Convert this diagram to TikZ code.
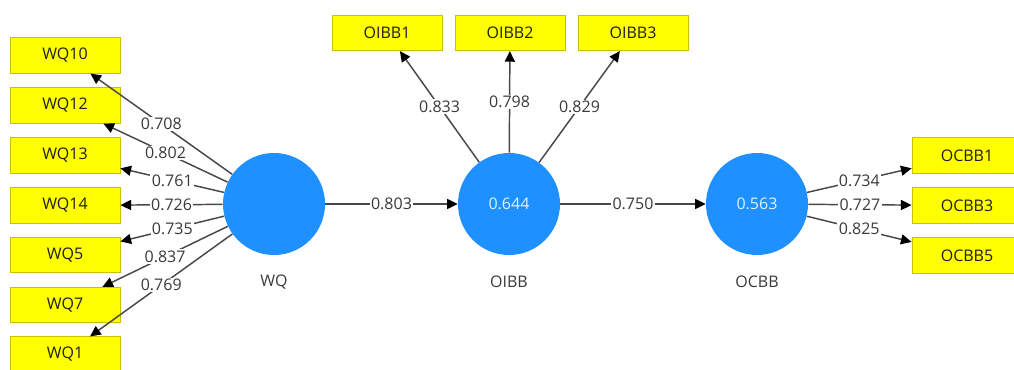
\documentclass[tikz,border=0pt]{standalone}
\usepackage{fontspec}
\setmainfont{Open Sans}
\usetikzlibrary{arrows.meta}
\definecolor{indfill}{HTML}{FFFF00}
\definecolor{inddraw}{HTML}{C8C000}
\definecolor{lvfill}{HTML}{1E90FF}
\definecolor{lvtext}{HTML}{E6F0FF}
\definecolor{wtext}{HTML}{3A3A3A}
\definecolor{arcline}{HTML}{484848}

\begin{document}
\begin{tikzpicture}[x=0.75pt,y=-0.75pt,
  indicator/.style={draw=inddraw, fill=indfill, line width=0.6pt,
    minimum width=82.5pt, minimum height=26.5pt, inner sep=0pt,
    text=black!88, font=\fontsize{12}{14}\selectfont},
  latent/.style={circle, fill=lvfill, draw=none, minimum size=76.5pt,
    inner sep=0pt, text=lvtext, font=\fontsize{12}{14}\selectfont},
  lvname/.style={text=wtext, font=\fontsize{12}{14}\selectfont},
  loading/.style={draw=arcline, line width=1.1pt,
    -{Triangle[length=8pt,width=7.5pt,color=black]}},
  weight/.style={fill=white, inner sep=1pt, text=wtext,
    font=\fontsize{12}{14}\selectfont}
]
\useasboundingbox (0,0) rectangle (1014,370);
\clip (0,0) rectangle (1014,370);

% latent variables
\node[latent] (WQ)   at (274,204) {};
\node[latent] (OIBB) at (509,204) {0.644};
\node[latent] (OCBB) at (757,204) {0.563};
\node[lvname] (WQn)   at (274,282) {WQ};
\node[lvname] (OIBBn) at (509,282) {OIBB};
\node[lvname] (OCBBn) at (757,282) {OCBB};

% indicators of WQ
\node[indicator] (WQ10) at (65,55.5)  {WQ10};
\node[indicator] (WQ12) at (65,105.5) {WQ12};
\node[indicator] (WQ13) at (65,155.5) {WQ13};
\node[indicator] (WQ14) at (65,205.5) {WQ14};
\node[indicator] (WQ5)  at (65,255)   {WQ5};
\node[indicator] (WQ7)  at (65,305)   {WQ7};
\node[indicator] (WQ1)  at (65,354.5) {WQ1};

% indicators of OIBB
\node[indicator] (OIBB1) at (387,33) {OIBB1};
\node[indicator] (OIBB2) at (510,33) {OIBB2};
\node[indicator] (OIBB3) at (633,33) {OIBB3};

% indicators of OCBB
\node[indicator] (OCBB1) at (967,155.5) {OCBB1};
\node[indicator] (OCBB3) at (967,205.5) {OCBB3};
\node[indicator] (OCBB5) at (967,255.5) {OCBB5};

% arrows
\foreach \t in {WQ10,WQ12,WQ13,WQ14,WQ5,WQ7,WQ1}
  \draw[loading] (WQ) -- (\t);
\foreach \t in {OIBB1,OIBB2,OIBB3}
  \draw[loading] (OIBB) -- (\t);
\foreach \t in {OCBB1,OCBB3,OCBB5}
  \draw[loading] (OCBB) -- (\t);
\draw[loading] (WQ) -- (OIBB);
\draw[loading] (OIBB) -- (OCBB);

% coefficients, set over all the lines
\foreach \t/\v in {WQ10/0.708,WQ12/0.802,WQ13/0.761,WQ14/0.726,WQ5/0.735,WQ7/0.837,WQ1/0.769}
  \path (WQ) -- node[weight] {\v} (\t);
\foreach \t/\v in {OIBB1/0.833,OIBB2/0.798,OIBB3/0.829}
  \path (OIBB) -- node[weight] {\v} (\t);
\foreach \t/\v in {OCBB1/0.734,OCBB3/0.727,OCBB5/0.825}
  \path (OCBB) -- node[weight] {\v} (\t);
\path (WQ) -- node[weight] {0.803} (OIBB);
\path (OIBB) -- node[weight] {0.750} (OCBB);
\end{tikzpicture}
\end{document}
